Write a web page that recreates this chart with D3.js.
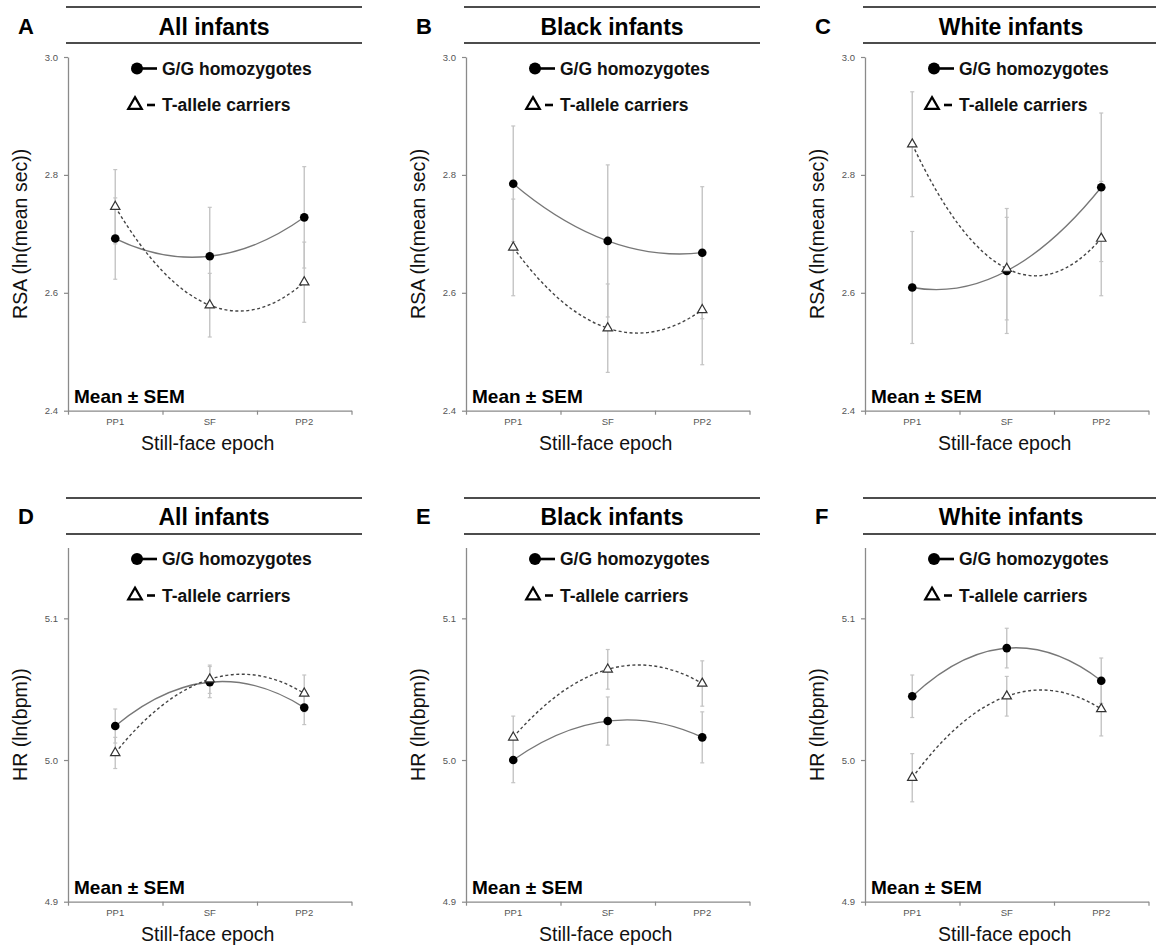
<!DOCTYPE html>
<html>
<head>
<meta charset="utf-8">
<script src="https://cdn.jsdelivr.net/npm/d3@7/dist/d3.min.js"></script>
<style>
  html, body { margin: 0; padding: 0; background: #fff; }
  svg { display: block; font-family: "Liberation Sans", Arial, sans-serif; }
</style>
</head>
<body>
<svg id="chart" width="1156" height="948"></svg>
<script>
// ---------- data ----------
const categories = ["PP1", "SF", "PP2"];
const panelLetters = ["A", "B", "C", "D", "E", "F"];
const panelTitles = ["All infants", "Black infants", "White infants", "All infants", "Black infants", "White infants"];
const seriesNames = ["G/G homozygotes", "T-allele carriers"];
const rsaTicks = [2.4, 2.6, 2.8, 3.0];
const hrTicks = [4.9, 5.0, 5.1];
const rsaDomain = [2.4, 3.0];
const hrDomain = [4.9, 5.15];
const rsaLabel = "RSA (ln(mean sec))";
const hrLabel = "HR (ln(bpm))";
const xLabel = "Still-face epoch";
const noteText = "Mean \u00b1 SEM";

// RSA means / SEM
const rsaAllGG = [2.692, 2.662, 2.728];
const rsaAllGGSem = [0.069, 0.083, 0.086];
const rsaAllT = [2.746, 2.579, 2.618];
const rsaAllTSem = [0.063, 0.054, 0.068];

const rsaBlackGG = [2.785, 2.688, 2.668];
const rsaBlackGGSem = [0.098, 0.129, 0.112];
const rsaBlackT = [2.677, 2.540, 2.571];
const rsaBlackTSem = [0.082, 0.075, 0.093];

const rsaWhiteGG = [2.609, 2.637, 2.779];
const rsaWhiteGGSem = [0.095, 0.106, 0.126];
const rsaWhiteT = [2.852, 2.641, 2.692];
const rsaWhiteTSem = [0.089, 0.087, 0.097];

// HR means / SEM
const hrAllGG = [5.024, 5.055, 5.037];
const hrAllGGSem = [0.012, 0.011, 0.012];
const hrAllT = [5.005, 5.057, 5.047];
const hrAllTSem = [0.011, 0.010, 0.013];

const hrBlackGG = [5.000, 5.0275, 5.016];
const hrBlackGGSem = [0.016, 0.017, 0.018];
const hrBlackT = [5.016, 5.064, 5.054];
const hrBlackTSem = [0.015, 0.014, 0.016];

const hrWhiteGG = [5.045, 5.079, 5.056];
const hrWhiteGGSem = [0.015, 0.014, 0.016];
const hrWhiteT = [4.9875, 5.045, 5.036];
const hrWhiteTSem = [0.017, 0.014, 0.019];

// ---------- layout ----------
const colX = [68, 466, 865];
const plotW = 283.5;
const rows = [
  { top: 57, bottom: 410.7, domain: rsaDomain, ticks: rsaTicks, ylab: rsaLabel, lineY: [7, 43], titleY: 34.5 },
  { top: 547.5, bottom: 901.7, domain: hrDomain, ticks: hrTicks, ylab: hrLabel, lineY: [498, 534], titleY: 525 }
];

const panelData = [
  { gg: rsaAllGG, ggs: rsaAllGGSem, t: rsaAllT, ts: rsaAllTSem },
  { gg: rsaBlackGG, ggs: rsaBlackGGSem, t: rsaBlackT, ts: rsaBlackTSem },
  { gg: rsaWhiteGG, ggs: rsaWhiteGGSem, t: rsaWhiteT, ts: rsaWhiteTSem },
  { gg: hrAllGG, ggs: hrAllGGSem, t: hrAllT, ts: hrAllTSem },
  { gg: hrBlackGG, ggs: hrBlackGGSem, t: hrBlackT, ts: hrBlackTSem },
  { gg: hrWhiteGG, ggs: hrWhiteGGSem, t: hrWhiteT, ts: hrWhiteTSem }
];

const svg = d3.select("#chart");
const axisColor = "#8a8a8a";
const tickTextColor = "#555";

panelData.forEach((pd, i) => {
  const r = rows[Math.floor(i / 3)];
  const x0 = colX[i % 3];
  const g = svg.append("g");

  const x = d3.scaleBand().domain(categories).range([x0, x0 + plotW]);
  const xEdge = d3.scaleLinear().domain([0, categories.length]).range([x0, x0 + plotW]);
  const y = d3.scaleLinear().domain(r.domain).range([r.bottom, r.top]);
  const cx = c => x(c) + x.bandwidth() / 2;

  // title rules and text
  r.lineY.forEach(ly => {
    g.append("line").attr("x1", x0 - 2).attr("x2", x0 + 294)
      .attr("y1", ly).attr("y2", ly).attr("stroke", "#111").attr("stroke-width", 1.6);
  });
  g.append("text").attr("x", x0 + 146).attr("y", r.titleY).attr("text-anchor", "middle")
    .attr("font-size", 23).attr("font-weight", "bold").attr("fill", "#000").text(panelTitles[i]);
  g.append("text").attr("x", x0 - 50).attr("y", r.titleY - 1)
    .attr("font-size", 22).attr("font-weight", "bold").attr("fill", "#000").text(panelLetters[i]);

  // y axis
  const yAxis = g.append("g").attr("transform", `translate(${x0},0)`)
    .call(d3.axisLeft(y).tickValues(r.ticks).tickFormat(d3.format(".1f")).tickSize(4).tickSizeOuter(0).tickPadding(6));
  yAxis.select(".domain").attr("stroke", axisColor).attr("stroke-width", 1.3);
  yAxis.selectAll(".tick line").attr("stroke", axisColor).attr("stroke-width", 1.2);
  yAxis.selectAll(".tick text").attr("font-size", 9.5).attr("fill", tickTextColor)
    .attr("font-family", "Liberation Sans, Arial, sans-serif");

  // x axis (edge ticks + category labels)
  const xAxisEdge = g.append("g").attr("transform", `translate(0,${r.bottom})`)
    .call(d3.axisBottom(xEdge).tickValues(d3.range(categories.length + 1)).tickFormat("").tickSize(4).tickSizeOuter(0));
  xAxisEdge.select(".domain").attr("stroke", axisColor).attr("stroke-width", 1.3);
  xAxisEdge.selectAll(".tick line").attr("stroke", axisColor).attr("stroke-width", 1.2);
  const xAxisLab = g.append("g").attr("transform", `translate(0,${r.bottom})`)
    .call(d3.axisBottom(x).tickSize(0).tickPadding(8));
  xAxisLab.select(".domain").remove();
  xAxisLab.selectAll(".tick text").attr("font-size", 9.5).attr("fill", tickTextColor)
    .attr("font-family", "Liberation Sans, Arial, sans-serif");

  // axis titles
  g.append("text").attr("x", x0 + plotW / 2 - 2).attr("y", r.bottom + 39)
    .attr("text-anchor", "middle").attr("font-size", 19.5).attr("fill", "#111").text(xLabel);
  g.append("text")
    .attr("transform", `translate(${x0 - 41},${(r.top + r.bottom) / 2}) rotate(-90)`)
    .attr("text-anchor", "middle").attr("font-size", 19.5).attr("fill", "#111").text(r.ylab);

  // error bars
  const series = [
    { vals: pd.gg, sem: pd.ggs },
    { vals: pd.t, sem: pd.ts }
  ];
  series.forEach(s => {
    categories.forEach((c, k) => {
      const xc = cx(c);
      const yt = y(s.vals[k] + s.sem[k]);
      const yb = y(s.vals[k] - s.sem[k]);
      g.append("line").attr("x1", xc).attr("x2", xc).attr("y1", yt).attr("y2", yb)
        .attr("stroke", "#c4c4c4").attr("stroke-width", 1.4);
      [yt, yb].forEach(yy => g.append("line").attr("x1", xc - 2).attr("x2", xc + 2)
        .attr("y1", yy).attr("y2", yy).attr("stroke", "#c4c4c4").attr("stroke-width", 1.2));
    });
  });

  // quadratic trend curves through the three means (parabola as a quadratic Bezier)
  function trendPath(vals) {
    const p = d3.path();
    const y0 = y(vals[0]), y1 = y(vals[1]), y2 = y(vals[2]);
    p.moveTo(cx(categories[0]), y0);
    p.quadraticCurveTo(cx(categories[1]), 2 * y1 - (y0 + y2) / 2, cx(categories[2]), y2);
    return p.toString();
  }
  g.append("path").attr("d", trendPath(pd.gg)).attr("fill", "none")
    .attr("stroke", "#777").attr("stroke-width", 1.3);
  g.append("path").attr("d", trendPath(pd.t)).attr("fill", "none")
    .attr("stroke", "#444").attr("stroke-width", 1.4).attr("stroke-dasharray", "3,2.5");

  // markers
  categories.forEach((c, k) => {
    g.append("circle").attr("cx", cx(c)).attr("cy", y(pd.gg[k])).attr("r", 4.3).attr("fill", "#000");
  });
  categories.forEach((c, k) => {
    g.append("path").attr("d", d3.symbol(d3.symbolTriangle, 38)())
      .attr("transform", `translate(${cx(c)},${y(pd.t[k])})`)
      .attr("fill", "#fff").attr("stroke", "#333").attr("stroke-width", 1.2);
  });

  // legend
  const ly1 = r.top + 11.5, ly2 = r.top + 48;
  g.append("line").attr("x1", x0 + 69).attr("x2", x0 + 89).attr("y1", ly1).attr("y2", ly1)
    .attr("stroke", "#000").attr("stroke-width", 2.6);
  g.append("circle").attr("cx", x0 + 69).attr("cy", ly1).attr("r", 6).attr("fill", "#000");
  g.append("text").attr("x", x0 + 94).attr("y", ly1 + 6.3).attr("font-size", 17.5)
    .attr("font-weight", "bold").attr("fill", "#111").text(seriesNames[0]);
  g.append("line").attr("x1", x0 + 79).attr("x2", x0 + 87).attr("y1", ly2).attr("y2", ly2)
    .attr("stroke", "#000").attr("stroke-width", 2.6);
  g.append("path").attr("d", d3.symbol(d3.symbolTriangle, 80)())
    .attr("transform", `translate(${x0 + 67},${ly2})`)
    .attr("fill", "#fff").attr("stroke", "#000").attr("stroke-width", 2.2);
  g.append("text").attr("x", x0 + 94).attr("y", ly2 + 6.3).attr("font-size", 17.5)
    .attr("font-weight", "bold").attr("fill", "#111").text(seriesNames[1]);

  // note
  g.append("text").attr("x", x0 + 6).attr("y", r.bottom - 8).attr("font-size", 19)
    .attr("font-weight", "bold").attr("fill", "#000").text(noteText);
});
</script>
</body>
</html>
